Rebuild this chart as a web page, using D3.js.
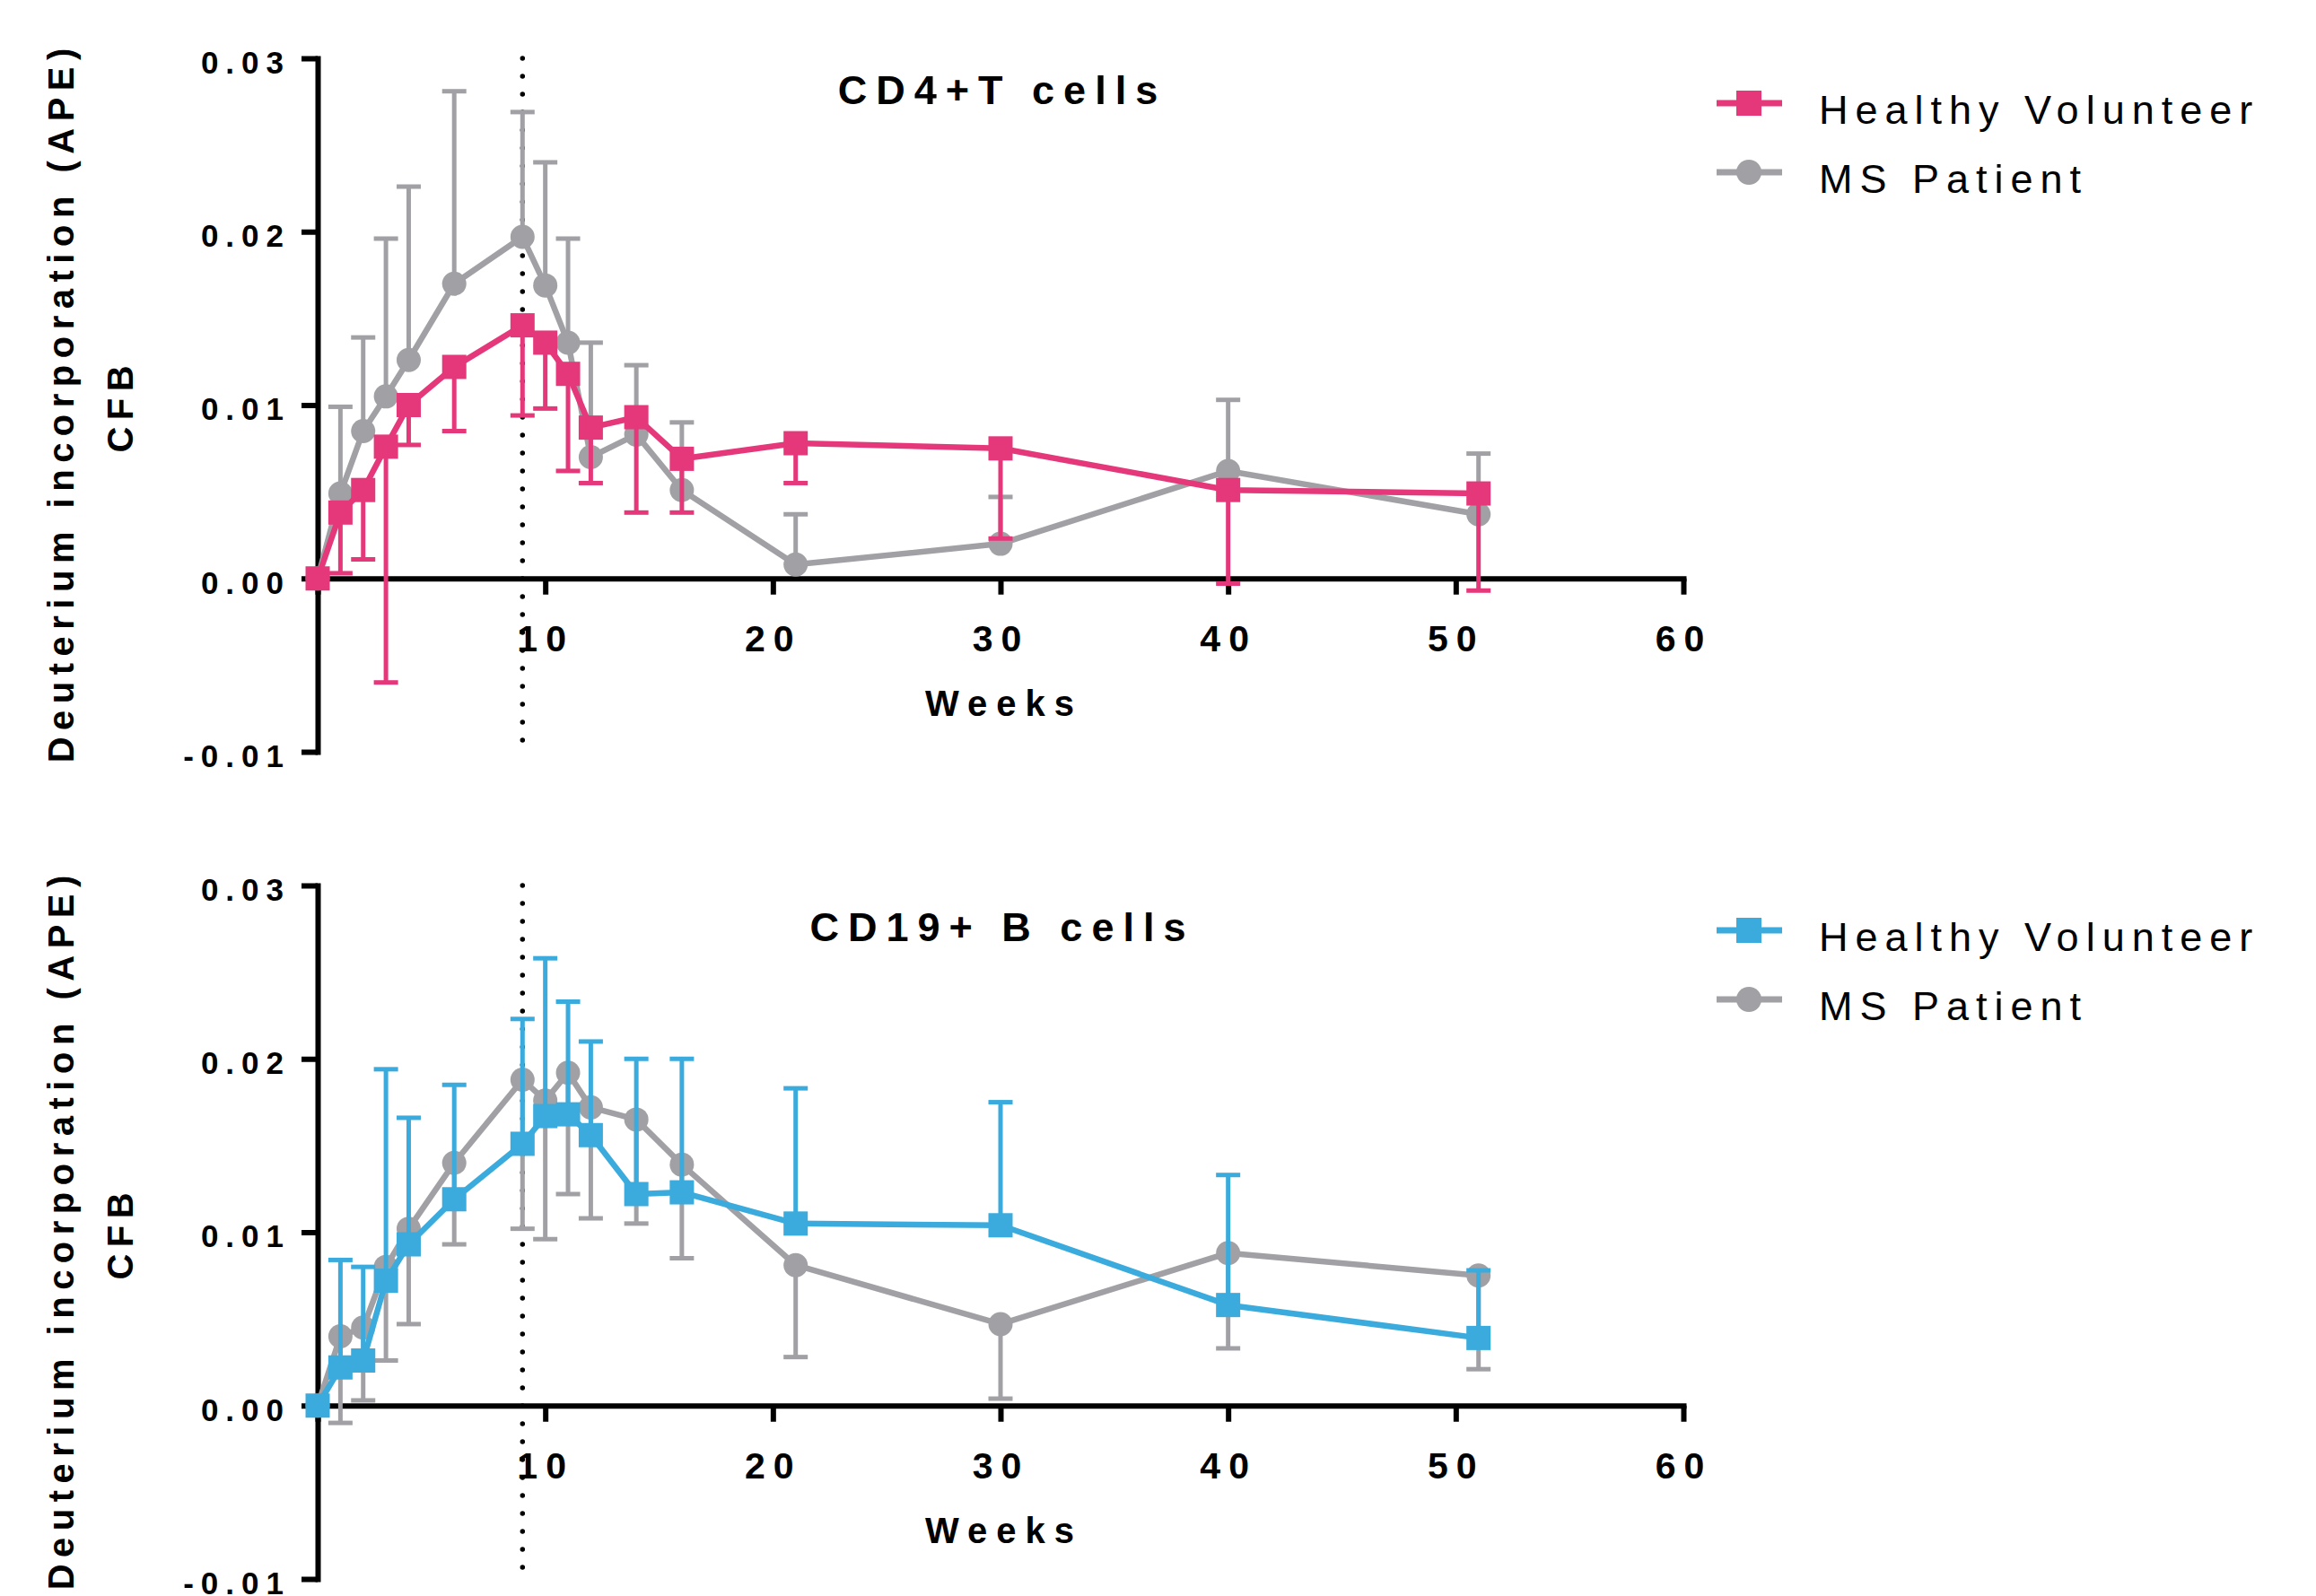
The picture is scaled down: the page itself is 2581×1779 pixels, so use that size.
<!DOCTYPE html>
<html>
<head>
<meta charset="utf-8">
<script src="https://cdn.jsdelivr.net/npm/d3@7"></script>
<style>
  body { margin: 0; background: #fff; }
  svg { display: block; font-family: "Liberation Sans", Arial, Helvetica, sans-serif; }
</style>
</head>
<body>
<div id="chart"></div>
<script>
// sampling times (weeks)
var weeks = [0, 1, 2, 3, 4, 6, 9, 10, 11, 12, 14, 16, 21, 30, 40, 51];

// CD4+ T cells
var cd4Healthy    = [0, 0.0038, 0.0051, 0.0076, 0.0100, 0.0122, 0.0146, 0.0136, 0.0118, 0.0087, 0.0093, 0.0069, 0.0078, 0.0075, 0.0051, 0.0049];
var cd4HealthyLow = [0, 0.0003, 0.0011, -0.0060, 0.0077, 0.0085, 0.0094, 0.0098, 0.0062, 0.0055, 0.0038, 0.0038, 0.0055, 0.0023, -0.0003, -0.0007];
var cd4Patient     = [0, 0.0049, 0.0085, 0.0105, 0.0126, 0.0170, 0.0197, 0.0169, 0.0136, 0.0070, 0.0083, 0.0051, 0.0008, 0.0020, 0.0062, 0.0037];
var cd4PatientHigh = [0, 0.0099, 0.0139, 0.0196, 0.0226, 0.0281, 0.0269, 0.0240, 0.0196, 0.0136, 0.0123, 0.0090, 0.0037, 0.0047, 0.0103, 0.0072];

// CD19+ B cells
var cd19Healthy     = [0, 0.0022, 0.0026, 0.0072, 0.0093, 0.0119, 0.0151, 0.0167, 0.0168, 0.0156, 0.0122, 0.0123, 0.0105, 0.0104, 0.0058, 0.0039];
var cd19HealthyHigh = [0, 0.0084, 0.0080, 0.0194, 0.0166, 0.0185, 0.0223, 0.0258, 0.0233, 0.0210, 0.0200, 0.0200, 0.0183, 0.0175, 0.0133, 0.0078];
var cd19Patient    = [0, 0.0040, 0.0045, 0.0080, 0.0102, 0.0140, 0.0188, 0.0176, 0.0192, 0.0172, 0.0165, 0.0139, 0.0081, 0.0047, 0.0088, 0.0075];
var cd19PatientLow = [0, -0.0010, 0.0003, 0.0026, 0.0047, 0.0093, 0.0102, 0.0096, 0.0122, 0.0108, 0.0105, 0.0085, 0.0028, 0.0004, 0.0033, 0.0021];

var xTicks = [0, 10, 20, 30, 40, 50, 60];
var yTicks = [-0.01, 0, 0.01, 0.02, 0.03];
var titles = ["CD4+T cells", "CD19+ B cells"];
var legendLabels = ["Healthy Volunteer", "MS Patient"];
var treatmentWeek = 9;

var pink = "#e5387b", blue = "#3aabdc", gray = "#a1a1a5";

var panels = [
  { title: titles[0], dy: 0,   titleY: 116, color: pink,
    healthy: cd4Healthy, healthyEnd: cd4HealthyLow, patient: cd4Patient, patientEnd: cd4PatientHigh },
  { title: titles[1], dy: 922, titleY: 127, color: blue,
    healthy: cd19Healthy, healthyEnd: cd19HealthyHigh, patient: cd19Patient, patientEnd: cd19PatientLow }
];

var width = 2581, height = 1779;

var svg = d3.select("#chart")
  .append("svg")
  .attr("width", width)
  .attr("height", height);

var x = d3.scaleLinear().domain([0, 60]).range([354, 1876]);
var y = d3.scaleLinear().domain([-0.01, 0.03]).range([838, 65]);

function drawSeries(g, vals, ends, color, shape) {
  var pts = weeks.map(function(w, i) { return { w: w, v: vals[i], e: ends[i] }; });

  // one-sided error bars
  var bars = g.append("g")
    .attr("stroke", color)
    .attr("stroke-width", 5);
  pts.filter(function(d) { return d.e !== d.v; }).forEach(function(d) {
    bars.append("line")
      .attr("x1", x(d.w)).attr("x2", x(d.w))
      .attr("y1", y(d.v)).attr("y2", y(d.e));
    bars.append("line")
      .attr("x1", x(d.w) - 13.5).attr("x2", x(d.w) + 13.5)
      .attr("y1", y(d.e)).attr("y2", y(d.e));
  });

  var line = d3.line()
    .x(function(d) { return x(d.w); })
    .y(function(d) { return y(d.v); });

  g.append("path")
    .datum(pts)
    .attr("d", line)
    .attr("fill", "none")
    .attr("stroke", color)
    .attr("stroke-width", 6.5)
    .attr("stroke-linejoin", "round");

  if (shape === "circle") {
    g.selectAll(null)
      .data(pts)
      .enter()
      .append("circle")
      .attr("cx", function(d) { return x(d.w); })
      .attr("cy", function(d) { return y(d.v); })
      .attr("r", 13.5)
      .attr("fill", color);
  } else {
    g.selectAll(null)
      .data(pts)
      .enter()
      .append("rect")
      .attr("x", function(d) { return x(d.w) - 13.5; })
      .attr("y", function(d) { return y(d.v) - 13.5; })
      .attr("width", 27)
      .attr("height", 27)
      .attr("fill", color);
  }
}

function drawPanel(p) {
  var g = svg.append("g")
    .attr("transform", "translate(0," + p.dy + ")");

  // dotted line at start of follow-up
  g.append("line")
    .attr("x1", x(treatmentWeek)).attr("x2", x(treatmentWeek))
    .attr("y1", y(0.03)).attr("y2", y(-0.0095))
    .attr("stroke", "#000")
    .attr("stroke-width", 5.5)
    .attr("stroke-linecap", "round")
    .attr("stroke-dasharray", "0 20");

  // y axis
  var yAxis = d3.axisLeft(y)
    .tickValues(yTicks)
    .tickSize(18)
    .tickSizeOuter(0)
    .tickPadding(12)
    .tickFormat(function(d) { return d.toFixed(2); });

  var ya = g.append("g")
    .attr("transform", "translate(" + x(0) + ",0)")
    .call(yAxis);
  ya.select(".domain").attr("stroke-width", 6).attr("stroke-linecap", "square");
  ya.selectAll(".tick line").attr("stroke-width", 6);
  ya.selectAll(".tick text")
    .attr("font-size", 35)
    .attr("font-weight", "bold")
    .attr("letter-spacing", 8)
    .attr("dy", "0.47em")
    .attr("fill", "#000");

  // x axis
  var xAxis = d3.axisBottom(x)
    .tickValues(xTicks)
    .tickSize(18)
    .tickSizeOuter(0)
    .tickPadding(34)
    .tickFormat(function(d) { return d === 0 ? "" : d; });

  var xa = g.append("g")
    .attr("transform", "translate(0," + y(0) + ")")
    .call(xAxis);
  xa.select(".domain").attr("stroke-width", 6).attr("stroke-linecap", "square");
  xa.selectAll(".tick line").attr("stroke-width", 6);
  xa.selectAll(".tick text")
    .attr("font-size", 41)
    .attr("font-weight", "bold")
    .attr("letter-spacing", 9)
    .attr("fill", "#000");

  // data: patients below, healthy volunteers on top
  drawSeries(g, p.patient, p.patientEnd, gray, "circle");
  drawSeries(g, p.healthy, p.healthyEnd, p.color, "square");

  // title
  g.append("text")
    .attr("x", 1112).attr("y", p.titleY)
    .attr("dx", 5)
    .attr("text-anchor", "middle")
    .attr("font-size", 45)
    .attr("font-weight", "bold")
    .attr("letter-spacing", 10)
    .text(p.title);

  // axis titles
  g.append("text")
    .attr("x", 1114).attr("y", 798)
    .attr("dx", 5)
    .attr("text-anchor", "middle")
    .attr("font-size", 40)
    .attr("font-weight", "bold")
    .attr("letter-spacing", 10)
    .text("Weeks");

  g.append("text")
    .attr("transform", "translate(82,452) rotate(-90)")
    .attr("dx", 3.75)
    .attr("text-anchor", "middle")
    .attr("font-size", 40)
    .attr("font-weight", "bold")
    .attr("letter-spacing", 7.5)
    .text("Deuterium incorporation (APE)");

  g.append("text")
    .attr("transform", "translate(148,456) rotate(-90)")
    .attr("dx", 3.75)
    .attr("text-anchor", "middle")
    .attr("font-size", 40)
    .attr("font-weight", "bold")
    .attr("letter-spacing", 7.5)
    .text("CFB");

  // legend
  var legend = g.selectAll(".legend")
    .data([{ label: legendLabels[0], color: p.color, shape: "square" },
           { label: legendLabels[1], color: gray, shape: "circle" }])
    .enter()
    .append("g")
    .attr("class", "legend")
    .attr("transform", function(d, i) { return "translate(0," + (115 + i * 77) + ")"; });

  legend.append("line")
    .attr("x1", 1913).attr("x2", 1986)
    .attr("stroke", function(d) { return d.color; })
    .attr("stroke-width", 7);

  legend.filter(function(d) { return d.shape === "square"; })
    .append("rect")
    .attr("x", 1949 - 14).attr("y", -14)
    .attr("width", 28).attr("height", 28)
    .attr("fill", function(d) { return d.color; });

  legend.filter(function(d) { return d.shape === "circle"; })
    .append("circle")
    .attr("cx", 1949).attr("cy", 0)
    .attr("r", 14)
    .attr("fill", function(d) { return d.color; });

  legend.append("text")
    .attr("x", 2027).attr("y", 23)
    .attr("font-size", 45)
    .attr("letter-spacing", 8)
    .text(function(d) { return d.label; });
}

panels.forEach(drawPanel);
</script>
</body>
</html>
